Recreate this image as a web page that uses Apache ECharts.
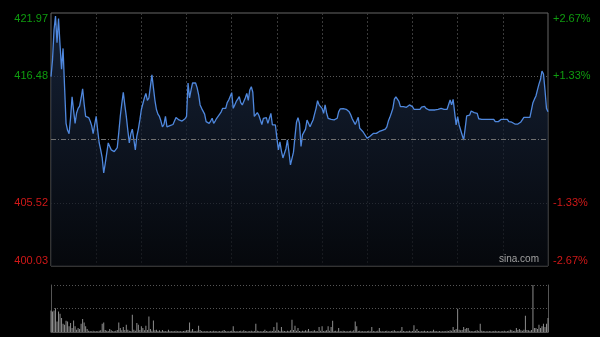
<!DOCTYPE html>
<html><head><meta charset="utf-8">
<script src="https://cdn.jsdelivr.net/npm/echarts@6/dist/echarts.min.js"></script>
<style>html,body{margin:0;padding:0;background:#000}#c{width:600px;height:337px}</style>
</head><body><div id="c"></div>
<script>
const prevClose = 411.00;
const priceMin = 400.03;
const priceMax = 421.97;
const leftLabels = ['400.03', '405.52', '', '416.48', '421.97'];
const rightLabels = ['-2.67%', '-1.33%', '', '+1.33%', '+2.67%'];
const watermark = 'sina.com';

const prices = [
416.45,417.9,420.5,421.7,419.4,421.5,419.2,417.1,418.9,415.6,
412.4,411.8,411.5,412.9,414.7,413.5,412.4,413.3,413.7,413.9,
414.6,415.4,414.1,413.0,412.9,412.9,412.6,412.2,411.5,412.3,
413.0,411.8,410.7,410.1,409.4,408.1,408.9,409.8,410.7,410.4,
410.1,410.0,409.95,410.1,410.3,411.6,413.0,414.1,415.1,414.0,
413.0,411.8,410.7,411.5,411.9,411.0,410.1,411.3,411.9,412.7,
413.6,414.1,414.6,415.0,414.4,414.6,415.6,416.6,415.5,414.4,
413.6,413.2,413.0,412.6,412.1,412.3,413.0,412.1,412.1,412.2,
412.3,412.3,412.4,412.9,412.9,412.7,412.55,412.6,412.6,412.8,
413.0,415.9,414.6,415.3,415.9,415.9,415.9,415.5,414.9,414.0,
413.7,413.7,413.2,412.55,412.5,412.4,412.6,412.84,412.4,412.6,
412.84,413.0,413.2,413.4,413.7,413.7,413.7,414.2,414.43,414.43,
415.06,413.7,414.0,414.3,414.5,414.72,414.2,414.0,414.1,414.6,
415.0,414.4,415.3,415.58,415.1,413.0,412.84,413.33,413.1,413.0,
412.3,412.84,412.9,412.9,412.4,412.3,413.27,412.26,412.26,412.26,
411.1,410.1,410.8,410.0,409.4,409.37,410.2,410.96,409.9,408.8,
408.7,409.9,411.25,412.5,412.9,412.4,410.4,411.4,411.25,411.9,
412.69,412.69,412.11,412.4,412.69,413.2,413.7,414.37,414.0,413.85,
413.7,413.27,414.0,413.3,412.84,412.69,412.75,412.84,412.7,412.55,
412.84,413.4,413.65,413.7,413.68,413.65,413.62,413.58,413.4,413.15,
412.8,412.55,412.3,412.6,412.92,411.97,411.97,411.7,411.5,411.35,
411.1,410.96,411.3,411.45,411.53,411.53,411.53,411.53,411.7,411.77,
411.8,411.82,411.9,412.1,412.6,412.92,413.3,413.7,414.5,414.7,
414.77,414.3,413.85,413.85,413.85,414.0,413.79,413.9,414.0,413.9,
413.85,413.62,413.62,413.62,413.62,413.62,413.8,413.91,413.88,413.7,
413.56,413.56,413.56,413.56,413.56,413.56,413.7,413.62,413.73,413.7,
413.62,413.62,413.62,413.62,413.62,414.43,414.0,414.48,414.57,412.26,
412.98,412.26,412.26,411.39,410.96,411.97,413.04,413.1,413.12,413.47,
413.35,413.33,413.3,413.27,412.8,412.75,412.75,412.75,412.75,412.75,
412.75,412.75,412.75,412.75,412.75,412.55,412.69,412.55,412.7,412.75,
412.75,412.75,412.75,412.75,412.55,412.52,412.5,412.49,412.34,412.34,
412.34,412.45,412.52,412.58,412.92,412.92,412.92,412.92,412.92,412.92,
414.19,414.5,414.77,415.3,415.8,416.2,416.94,416.68,415.29,413.7,413.41
];

const volumes = [
458,437,458,507,225,437,387,296,176,155,
239,225,120,190,85,246,120,49,85,63,
176,275,204,120,63,28,21,18,28,14,
21,18,25,35,176,204,42,28,21,63,
35,21,18,28,42,204,85,35,106,42,
155,49,28,21,366,49,28,190,155,42,
120,85,35,134,42,331,63,28,246,35,
49,21,35,18,42,21,14,18,49,21,
14,21,18,28,14,21,18,14,21,28,
35,42,204,28,63,21,18,28,134,42,
21,14,18,21,14,18,21,14,28,21,
14,18,21,14,28,42,21,18,14,21,
28,120,21,18,14,21,28,18,35,21,
14,18,21,28,18,21,176,28,21,14,
18,21,49,21,18,14,28,21,106,28,
204,35,21,106,28,21,18,28,21,35,
261,42,134,28,85,21,18,28,21,35,
28,63,21,18,28,35,21,14,106,28,
120,21,28,35,120,28,106,239,21,28,
18,85,21,14,28,21,18,14,21,28,
18,35,225,120,21,28,18,21,14,18,
21,28,18,106,21,14,18,28,85,21,
14,18,21,28,14,18,21,28,35,21,
18,21,28,106,21,18,14,21,28,18,
21,141,28,63,21,18,14,21,28,18,
21,14,18,21,49,21,18,14,21,18,
14,21,18,28,21,35,28,106,42,63,
493,49,35,42,106,63,85,85,28,21,
18,21,28,35,21,176,28,21,18,14,
18,21,14,18,21,28,18,21,14,18,
21,28,18,21,28,49,35,21,28,85,
42,63,35,28,49,345,42,35,28,42,
1000,85,85,63,155,85,120,176,106,176,
296
];

// trading minutes: 09:30-12:00, 13:01-16:00
const times = [];
function pad(n) { return (n < 10 ? '0' : '') + n; }
for (let t = 9 * 60 + 30; t <= 12 * 60; t++) times.push(pad(Math.floor(t / 60)) + ':' + pad(t % 60));
for (let t = 13 * 60 + 1; t <= 16 * 60; t++) times.push(pad(Math.floor(t / 60)) + ':' + pad(t % 60));

const green = '#0f9c0f';
const red = '#d01818';
const levelColor = function (v) { v = Number(v); return v > 2 ? green : (v < 2 ? red : '#888'); };

const chart = echarts.init(document.getElementById('c'), null, { renderer: 'canvas' });
chart.setOption({
  backgroundColor: '#000',
  animation: false,
  title: {
    text: watermark, left: 499, top: 254, padding: 0,
    textStyle: { color: '#a0a0a0', fontSize: 10, fontWeight: 'normal', fontFamily: 'Arial' }
  },
  grid: [
    { left: 51, top: 13, width: 497, height: 253, show: true, borderColor: '#666', borderWidth: 1, backgroundColor: 'transparent', outerBoundsMode: 'none' },
    { left: 51, top: 285, width: 497, height: 47, outerBoundsMode: 'none' }
  ],
  xAxis: [
    {
      type: 'category', gridIndex: 0, data: times, boundaryGap: false,
      axisLine: { show: false }, axisTick: { show: false }, axisLabel: { show: false },
      splitLine: {
        show: true,
        interval: function (i) { return i % 30 === 0 && i > 0 && i < 330; },
        lineStyle: { color: '#3a3a3a', type: [2, 2], width: 1 }
      }
    },
    {
      type: 'category', gridIndex: 1, data: times, boundaryGap: false,
      axisLine: { show: true, lineStyle: { color: '#555' } }, axisTick: { show: false }, axisLabel: { show: false },
      splitLine: { show: false }
    }
  ],
  yAxis: [
    { type: 'value', gridIndex: 0, min: priceMin, max: priceMax, show: false, splitLine: { show: false } },
    {
      type: 'value', gridIndex: 0, min: 0, max: 4, interval: 1, position: 'left',
      axisLine: { show: false }, axisTick: { show: false },
      axisLabel: {
        formatter: function (v) { return leftLabels[Math.round(v)]; },
        color: levelColor, fontSize: 11, fontFamily: 'Arial', margin: 3,
        verticalAlignMinLabel: 'bottom', verticalAlignMaxLabel: 'top'
      },
      splitLine: { show: true, lineStyle: { color: ['transparent', '#585858', 'transparent', '#585858', 'transparent'], type: [1, 2] } }
    },
    {
      type: 'value', gridIndex: 0, min: 0, max: 4, interval: 1, position: 'right',
      axisLine: { show: false }, axisTick: { show: false },
      axisLabel: {
        formatter: function (v) { return rightLabels[Math.round(v)]; },
        color: levelColor, fontSize: 11, fontFamily: 'Arial', margin: 5,
        verticalAlignMinLabel: 'bottom', verticalAlignMaxLabel: 'top'
      },
      splitLine: { show: false }
    },
    {
      type: 'value', gridIndex: 1, min: 0, max: 1000, interval: 500, position: 'left',
      axisLine: { show: true, lineStyle: { color: '#555' } }, axisTick: { show: false }, axisLabel: { show: false },
      splitLine: { show: true, lineStyle: { color: '#555', type: [1, 2] } }
    },
    {
      type: 'value', gridIndex: 1, min: 0, max: 1000, interval: 500, position: 'right',
      axisLine: { show: true, lineStyle: { color: '#555' } }, axisTick: { show: false }, axisLabel: { show: false },
      splitLine: { show: false }
    }
  ],
  series: [
    {
      type: 'line', xAxisIndex: 0, yAxisIndex: 0, data: prices,
      symbol: 'none', smooth: false,
      lineStyle: { color: '#4f88de', width: 1.3 },
      areaStyle: {
        origin: 'start',
        color: new echarts.graphic.LinearGradient(0, 0, 0, 1, [
          { offset: 0, color: '#1e2f4c' },
          { offset: 1, color: '#080b11' }
        ])
      },
      markLine: {
        silent: true, symbol: 'none', label: { show: false },
        lineStyle: { color: '#707070', type: [5, 2, 1, 2], width: 1 },
        data: [{ yAxis: prevClose }]
      }
    },
    {
      type: 'bar', xAxisIndex: 1, yAxisIndex: 3, data: volumes,
      barWidth: 1, itemStyle: { color: '#8c8c8c' }
    }
  ]
});
</script>
</body></html>
